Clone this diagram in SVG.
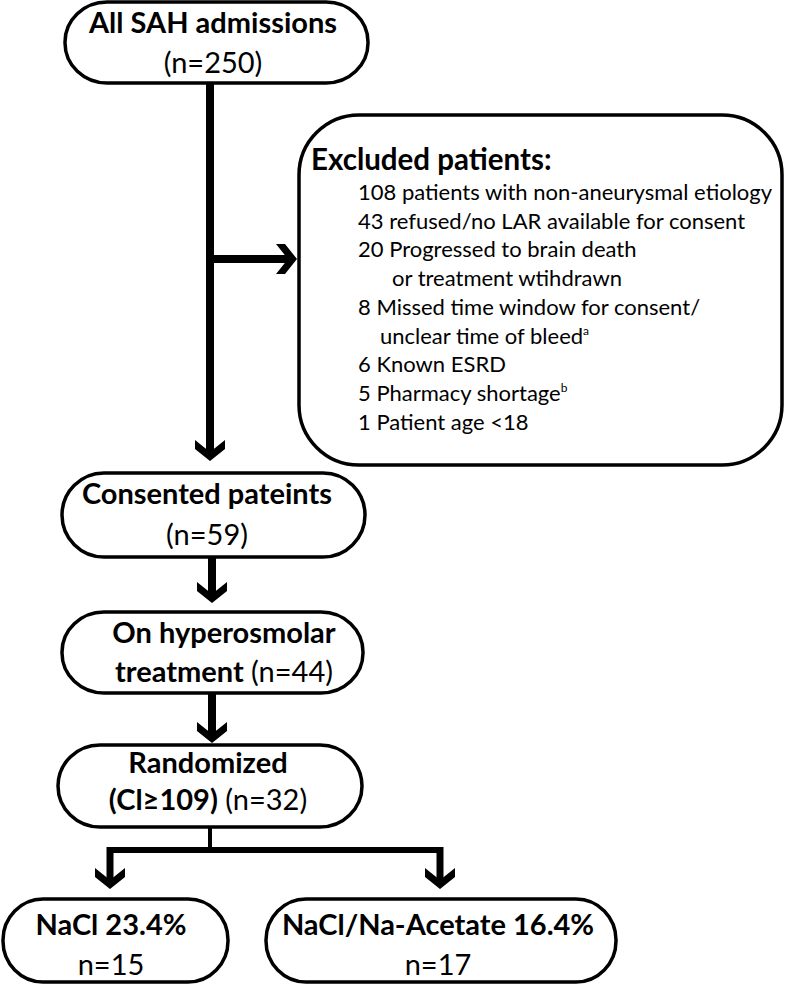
<svg xmlns="http://www.w3.org/2000/svg" xmlns:xlink="http://www.w3.org/1999/xlink" width="787" height="985" viewBox="0 0 787 985">
<style>
.box{fill:#fff;stroke:#000;stroke-width:3.5}
.con{fill:none;stroke:#000;stroke-width:8}
.head{fill:#000}
text{font-family:Lato,"Open Sans","Liberation Sans",sans-serif;fill:#000}
.t{font-size:29px;text-anchor:middle}
.b{font-weight:bold}
.item{font-size:22px}
</style>
<defs>
<path id="ahd" d="M0,0 L-15,-12 L-15,-21 L0,-9 L15,-21 L15,-12 Z"/>
</defs>
<g id="connectors">
<path class="con" d="M210,83 V452"/>
<use xlink:href="#ahd" href="#ahd" class="head" transform="translate(210,461)"/>
<path class="con" d="M210,259 H289"/>
<use xlink:href="#ahd" href="#ahd" class="head" transform="translate(297,259) rotate(-90)"/>
<path class="con" d="M212,557 V594"/>
<use xlink:href="#ahd" href="#ahd" class="head" transform="translate(212,603)"/>
<path class="con" d="M212,693 V734"/>
<use xlink:href="#ahd" href="#ahd" class="head" transform="translate(212,743)"/>
<path class="con" d="M210,827 V850" style="stroke-width:4"/>
<path class="con" d="M107,850 H443" style="stroke-width:6"/>
<path class="con" d="M110,847 V880" style="stroke-width:7"/>
<use xlink:href="#ahd" href="#ahd" class="head" transform="translate(110,889)"/>
<path class="con" d="M440,847 V880" style="stroke-width:7"/>
<use xlink:href="#ahd" href="#ahd" class="head" transform="translate(440,889)"/>
</g>
<g id="all">
<rect class="box" x="65" y="2" width="303" height="81" rx="42" ry="40"/>
<text class="t b" x="213" y="33">All SAH admissions</text>
<text class="t" x="213" y="73">(n=250)</text>
</g>
<g id="excluded">
<rect class="box" x="299" y="115" width="483" height="350" rx="60" ry="60"/>
<text class="b" x="311" y="170" font-size="29.5">Excluded patients:</text>
<text class="item" x="358" y="200">108 patients with non-aneurysmal etiology</text>
<text class="item" x="358" y="229">43 refused/no LAR available for consent</text>
<text class="item" x="358" y="257">20 Progressed to brain death</text>
<text class="item" x="392" y="286">or treatment wtihdrawn</text>
<text class="item" x="358" y="315">8 Missed time window for consent/</text>
<text class="item" x="380" y="344">unclear time of bleed<tspan font-size="12" dy="-9">a</tspan></text>
<text class="item" x="358" y="372">6 Known ESRD</text>
<text class="item" x="358" y="401">5 Pharmacy shortage<tspan font-size="12" dy="-9">b</tspan></text>
<text class="item" x="358" y="430">1 Patient age &lt;18</text>
</g>
<g id="consented">
<rect class="box" x="62" y="473" width="303" height="84" rx="42" ry="42"/>
<text class="t b" x="207" y="504">Consented pateints</text>
<text class="t" x="207" y="545">(n=59)</text>
</g>
<g id="hyper">
<rect class="box" x="62" y="612" width="301" height="81" rx="42" ry="40"/>
<text class="t b" x="224" y="643">On hyperosmolar</text>
<text class="t" x="224" y="682"><tspan class="b">treatment</tspan> (n=44)</text>
</g>
<g id="randomized">
<rect class="box" x="58" y="745" width="304" height="82" rx="42" ry="41"/>
<text class="t b" x="208" y="773">Randomized</text>
<text class="t" x="208" y="810"><tspan class="b">(Cl≥109)</tspan> (n=32)</text>
</g>
<g id="nacl">
<rect class="box" x="3" y="899" width="225" height="83" rx="40" ry="41"/>
<text class="t b" x="111" y="935">NaCl 23.4%</text>
<text class="t" x="111" y="975">n=15</text>
</g>
<g id="acetate">
<rect class="box" x="266" y="899" width="350" height="83" rx="40" ry="41"/>
<text class="t b" x="438" y="935">NaCl/Na-Acetate 16.4%</text>
<text class="t" x="438" y="975">n=17</text>
</g>
</svg>
